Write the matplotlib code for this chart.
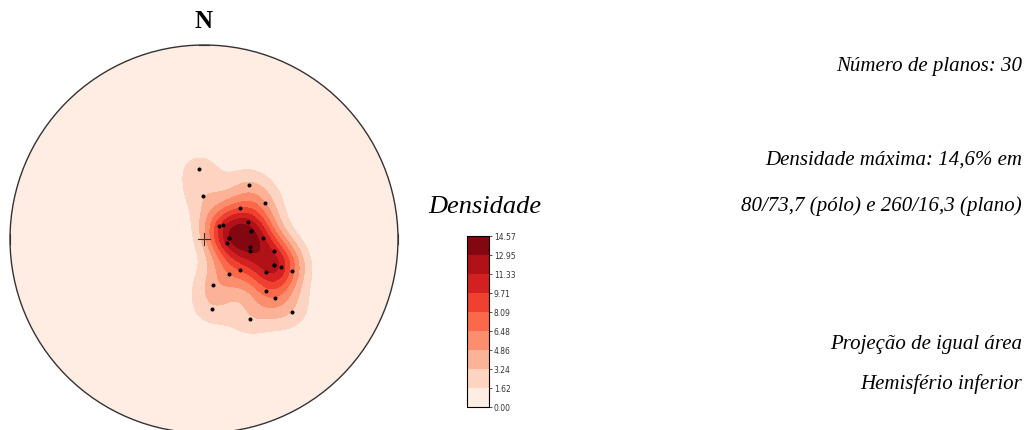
import numpy as np
import matplotlib
matplotlib.use("Agg")
import matplotlib.pyplot as plt
from matplotlib.patches import Circle

# polos dos planos (trend/plunge, em graus) - hemisfério inferior
pole_trend = [355.7, 358.0, 39.8, 59.7, 49.6, 69.3, 50.2, 54.6, 79.7, 88.4,
              99.7, 89.3, 99.3, 104.0, 99.4, 109.9, 109.8, 109.9, 117.8, 130.3,
              144.8, 169.4, 130.0, 129.6, 173.7, 129.7, 150.0, 109.9, 88.4, 79.7]
pole_plunge = [60.4, 72.1, 60.3, 60.1, 70.1, 70.1, 81.8, 80.1, 70.1, 79.7,
               80.1, 65.0, 70.4, 70.0, 60.2, 58.3, 55.3, 50.3, 60.4, 70.2,
               72.0, 70.2, 55.6, 50.6, 60.4, 40.5, 50.4, 58.3, 79.7, 70.1]

dens_max = 14.57
n_levels = 10
levels = np.linspace(0, dens_max, n_levels)

info_lines = ["Número de planos: 30",
              "Densidade máxima: 14,6% em",
              "80/73,7 (pólo) e 260/16,3 (plano)",
              "Projeção de igual área",
              "Hemisfério inferior"]


def to_vec(trend, plunge):
    t = np.radians(trend)
    p = np.radians(plunge)
    return np.array([np.cos(p) * np.cos(t), np.cos(p) * np.sin(t), np.sin(p)])


def project(trend, plunge):
    # projeção de Schmidt (igual área), raio 1
    t = np.radians(np.asarray(trend))
    colat = np.radians(90 - np.asarray(plunge))
    r = np.sqrt(2) * np.sin(colat / 2)
    return r * np.sin(t), r * np.cos(t)


# grade de densidade
n = 300
gx, gy = np.meshgrid(np.linspace(-1, 1, n), np.linspace(-1, 1, n))
gr = np.hypot(gx, gy)
colat = 2 * np.arcsin(np.clip(gr / np.sqrt(2), 0, 1))
gt = np.degrees(np.arctan2(gx, gy))
gp = 90 - np.degrees(colat)
grid_vec = to_vec(gt, gp)

poles = to_vec(np.array(pole_trend), np.array(pole_plunge))
cosd = np.abs(np.tensordot(poles.T, grid_vec, axes=(1, 0)))
kappa = 65.0
dens = np.exp(kappa * (cosd - 1)).sum(axis=0)
dens = dens / dens[gr <= 1].max() * dens_max
dens[gr > 1.0] = np.nan

fig = plt.figure(figsize=(10.29, 4.31), dpi=100)
ax = fig.add_axes([10 / 1029, -3 / 431, 388 / 1029, 388 / 431])
ax.set_xlim(-1, 1)
ax.set_ylim(-1, 1)
ax.set_aspect("equal")
ax.axis("off")

cf = ax.contourf(gx, gy, dens, levels=levels, cmap="Reds")
cf.set_clip_path(Circle((0, 0), 1, transform=ax.transData))

ax.add_patch(Circle((0, 0), 1, fill=False, ec="#333333", lw=1.0, clip_on=False))

px, py = project(pole_trend, pole_plunge)
ax.plot(px, py, "o", color="black", ms=2.9, mew=0)

# marcas N, E, S, W e centro
tk = 0.025
for ang in [0, 90, 180, 270]:
    a = np.radians(ang)
    cx, cy = np.sin(a), np.cos(a)
    ax.plot([cx - tk * np.cos(a), cx + tk * np.cos(a)],
            [cy + tk * np.sin(a), cy - tk * np.sin(a)], color="#333333", lw=0.8, clip_on=False)
ax.plot([-0.03, 0.03], [0, 0], color="#333333", lw=0.8)
ax.plot([0, 0], [-0.03, 0.03], color="#333333", lw=0.8)

fig.text(204 / 1029, 1 - 22 / 431, "N", ha="center", va="center",
         family="Liberation Serif", fontweight="bold", fontsize=18)

fig.text(485 / 1029, 1 - 207 / 431, "Densidade", ha="center", va="center",
         family="Liberation Serif", style="italic", fontsize=19)

cax = fig.add_axes([467 / 1029, 1 - 408 / 431, 22 / 1029, 171 / 431])
cb = fig.colorbar(cf, cax=cax, ticks=levels)
cb.ax.set_yticklabels([f"{v:.2f}" for v in levels])
cb.ax.tick_params(labelsize=5.5, length=2, width=0.6, colors="#333333", pad=1.5)
cb.outline.set_linewidth(0.8)

ys = [67, 160, 206, 345, 384]
for txt, y in zip(info_lines, ys):
    fig.text(1022 / 1029, 1 - y / 431, txt, ha="right", va="center",
             family="Liberation Serif", style="italic", fontsize=15)

fig.savefig("out.png", dpi=100)
